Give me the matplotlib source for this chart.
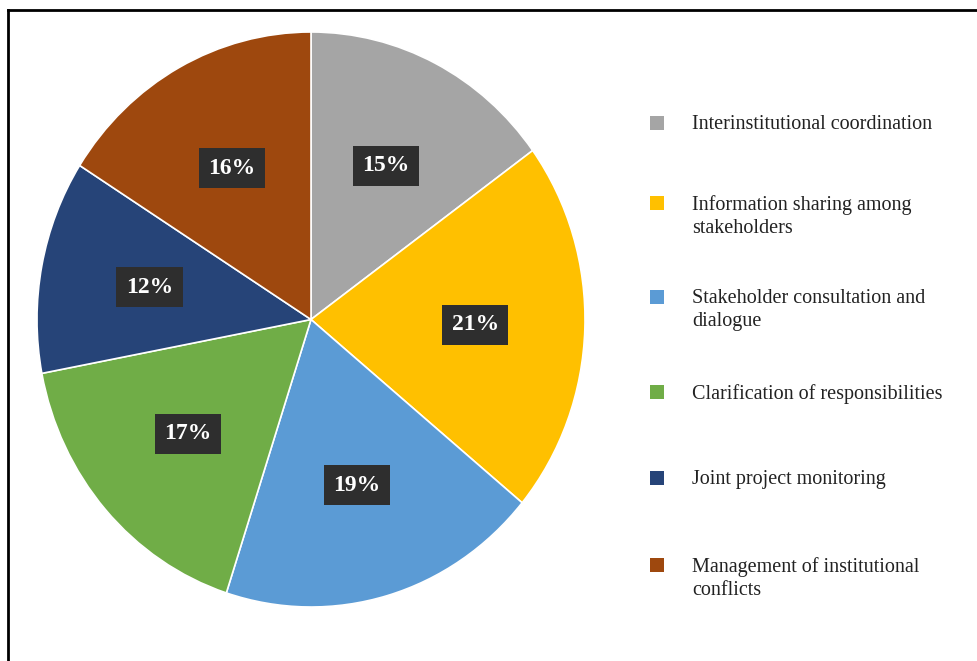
import matplotlib
matplotlib.use("Agg")
import matplotlib.pyplot as plt
from matplotlib.patches import Rectangle
from matplotlib.lines import Line2D

categories = [
    "Interinstitutional coordination",
    "Information sharing among\nstakeholders",
    "Stakeholder consultation and\ndialogue",
    "Clarification of responsibilities",
    "Joint project monitoring",
    "Management of institutional\nconflicts",
]
values = [15, 21, 19, 17, 12, 16]
colors = ["#A5A5A5", "#FFC000", "#5B9BD5", "#70AD47", "#264478", "#9E480E"]

W, H = 978, 661
fig = plt.figure(figsize=(W / 100, H / 100), dpi=100)
fig.patch.set_facecolor("white")

# pie axes (slightly elliptical like the reference)
cx0, cx1, cy0, cy1 = 37, 585, 32, 607
ax = fig.add_axes([cx0 / W, 1 - cy1 / H, (cx1 - cx0) / W, (cy1 - cy0) / H])
wedges, texts, autotexts = ax.pie(
    values, colors=colors, startangle=90, counterclock=False,
    autopct=lambda p: f"{p:.0f}%", pctdistance=0.6,
    wedgeprops=dict(edgecolor="white", linewidth=1.2),
    textprops=dict(color="white", fontsize=17, fontweight="bold",
                   family="Liberation Serif"),
)
for t in autotexts:
    t.set_bbox(dict(boxstyle="square,pad=0.4", facecolor="#2E2E2E", edgecolor="none"))
ax.set_aspect("auto")
ax.set_xlim(-1, 1)
ax.set_ylim(-1, 1)
ax.axis("off")

# legend drawn manually to match the layout
leg_y = [123, 203, 297, 392, 478, 565]
for cat, col, y in zip(categories, colors, leg_y):
    fig.patches.append(Rectangle(((650) / W, 1 - (y + 7) / H), 14 / W, 14 / H,
                                 transform=fig.transFigure, facecolor=col,
                                 edgecolor="none"))
    fig.text(692 / W, 1 - (y - 8) / H, cat, ha="left", va="top",
             fontsize=14.5, family="Liberation Serif", color="#222222",
             linespacing=1.32)

# frame border (top and left edges visible)
fig.add_artist(Line2D([8 / W, 1.0], [1 - 10 / H, 1 - 10 / H], transform=fig.transFigure,
                      color="black", linewidth=2))
fig.add_artist(Line2D([8 / W, 8 / W], [0.0, 1 - 10 / H], transform=fig.transFigure,
                      color="black", linewidth=2))

fig.savefig("out.png", dpi=100)
